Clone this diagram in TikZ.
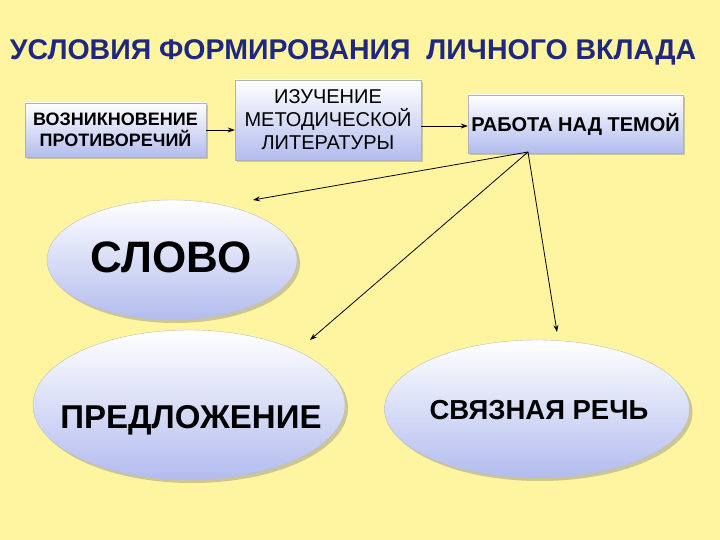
\documentclass[tikz,border=0pt]{standalone}
\usepackage{fontspec}
\setmainfont{Liberation Sans}
\usetikzlibrary{shadows,shapes.geometric,arrows.meta}
\definecolor{bg}{RGB}{255,245,160}
\definecolor{lav}{RGB}{178,188,238}
\definecolor{navy}{RGB}{30,40,130}
\tikzset{
 box/.style={draw=gray!60,rectangle,top color=white,bottom color=lav,drop shadow={opacity=0.4,shadow xshift=2pt,shadow yshift=-2pt},align=center,inner sep=0pt},
 ell/.style={ellipse,draw=gray!50,top color=white,bottom color=lav,drop shadow={opacity=0.4,shadow xshift=3pt,shadow yshift=-3pt},inner sep=0pt},
 arr/.style={-{Stealth[length=7pt,width=5pt]},line width=0.8pt,black}
}
\begin{document}
\begin{tikzpicture}[x=1pt,y=-1pt]
\fill[bg] (0,0) rectangle (720,540);
\useasboundingbox (0,0) rectangle (720,540);
\node[text=navy,font=\bfseries\fontsize{28.5}{32}\selectfont] (title) at (353,52) {УСЛОВИЯ ФОРМИРОВАНИЯ \ ЛИЧНОГО ВКЛАДА};
\node[box,minimum width=181pt,minimum height=54pt,font=\bfseries\fontsize{18}{21}\selectfont] (b1) at (115.5,130) {ВОЗНИКНОВЕНИЕ\\ ПРОТИВОРЕЧИЙ};
\node[box,minimum width=186pt,minimum height=80pt,font=\fontsize{20}{23}\selectfont] (b2) at (328,120) {ИЗУЧЕНИЕ\\МЕТОДИЧЕСКОЙ\\ЛИТЕРАТУРЫ};
\node[box,minimum width=215pt,minimum height=58pt,font=\bfseries\fontsize{20}{23}\selectfont] (b3) at (575.5,124) {РАБОТА НАД ТЕМОЙ};
\node[ell,minimum width=250pt,minimum height=120pt] (e1) at (172,260) {};
\node[font=\bfseries\fontsize{44}{48}\selectfont] (t1) at (171,257) {СЛОВО};
\node[ell,minimum width=312pt,minimum height=150pt] (e2) at (189,405) {};
\node[font=\bfseries\fontsize{33}{36}\selectfont] (t2) at (191,420) {ПРЕДЛОЖЕНИЕ};
\node[ell,minimum width=305pt,minimum height=138pt] (e3) at (537,409) {};
\node[font=\bfseries\fontsize{27.5}{30}\selectfont] (t3) at (539,410) {СВЯЗНАЯ РЕЧЬ};
\coordinate (src) at (528,152);
\coordinate (a1) at (253,200);
\coordinate (a2) at (310,340);
\coordinate (a3) at (557,332);
\draw[arr] (b1.east) -- (b2.west |- b1.east);
\draw[arr] (b2.east |- 0,126) -- (b3.west |- 0,126);
\draw[arr] (src) -- (a1);
\draw[arr] (src) -- (a2);
\draw[arr] (src) -- (a3);
\end{tikzpicture}
\end{document}
